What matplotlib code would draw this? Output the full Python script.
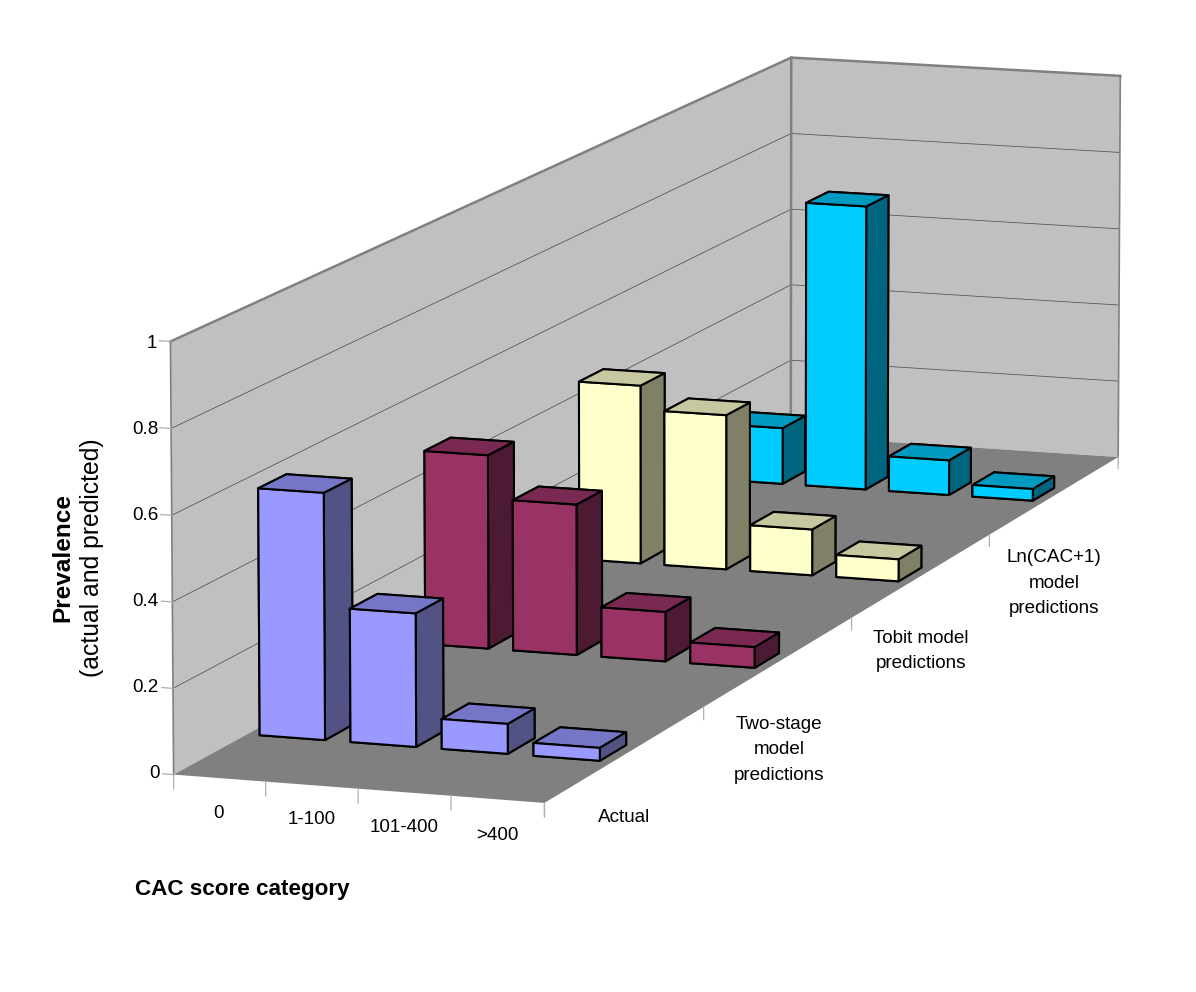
import numpy as np
import matplotlib
matplotlib.use("Agg")
import matplotlib.pyplot as plt
from mpl_toolkits.mplot3d.art3d import Poly3DCollection

plt.rcParams['font.family'] = ['Liberation Sans', 'DejaVu Sans']

W, H = 1196, 992

# datos
categories = ['0', '1-100', '101-400', '>400']
series_names = ['Actual', 'Two-stage\nmodel\npredictions', 'Tobit model\npredictions', 'Ln(CAC+1)\nmodel\npredictions']
actual = [0.58, 0.313, 0.07, 0.03]
two_stage = [0.47, 0.365, 0.12, 0.05]
tobit = [0.447, 0.387, 0.115, 0.055]
ln_cac = [0.145, 0.733, 0.09, 0.03]
z_ticks = [0, 0.2, 0.4, 0.6, 0.8, 1]
z_tick_labels = ['0', '0.2', '0.4', '0.6', '0.8', '1']

front_colors = ['#9999FF', '#993366', '#FFFFCC', '#00CCFF']
top_colors = ['#7676C6', '#7A2952', '#C8C8A0', '#0099BF']
side_colors = ['#525285', '#4D1A33', '#808066', '#006680']

# calibracion de la camara: esquinas de la caja (x, y, z) -> pixeles
box_points = [(0, 0, 0), (4, 0, 0), (4, 4, 0), (0, 4, 0), (0, 0, 1), (0, 4, 1), (4, 4, 1)]
box_pixels = [(173, 773), (545, 804), (1118, 456), (791, 437), (170.5, 342), (791.5, 57), (1120, 76)]


def fit_camera(points, pixels):
    A, b = [], []
    for (x, y, z), (u, v) in zip(points, pixels):
        v = H - v
        A.append([x, y, z, 1, 0, 0, 0, 0, -u * x, -u * y, -u * z])
        A.append([0, 0, 0, 0, x, y, z, 1, -v * x, -v * y, -v * z])
        b += [u, v]
    p = np.linalg.lstsq(np.array(A, float), np.array(b, float), rcond=None)[0]
    # la fila de profundidad solo fija el orden de las caras dentro de cada barra
    return np.array([p[:4], p[4:8], [-1, 10, -20, 0], [p[8], p[9], p[10], 1]])


fig = plt.figure(figsize=(W / 100, H / 100), dpi=100)
# caja cuadrada que cubre toda la figura (mplot3d fuerza aspecto 1)
margin = (W - H) / 2
ax = fig.add_axes([0, -margin / H, 1, W / H], projection='3d')
ax.set_axis_off()
ax.computed_zorder = False
ax.set_proj_type('ortho')  # evita que Line3D recorte puntos fuera de [-1, 1]
M = fit_camera(box_points, box_pixels)
ax.get_proj = lambda: M
ax.viewLim.intervalx = (0, W)
ax.viewLim.intervaly = (-margin, H + margin)

n_x, n_y = len(categories), len(series_names)

# paredes y suelo
left_wall = [(0, 0, 0), (0, n_y, 0), (0, n_y, 1), (0, 0, 1)]
back_wall = [(0, n_y, 0), (n_x, n_y, 0), (n_x, n_y, 1), (0, n_y, 1)]
floor = [(0, 0, 0), (n_x, 0, 0), (n_x, n_y, 0), (0, n_y, 0)]
ax.add_collection3d(Poly3DCollection([left_wall, back_wall], facecolors='#C0C0C0', edgecolors='none', zorder=1), autolim=False)
ax.add_collection3d(Poly3DCollection([floor], facecolors='#808080', edgecolors='none', zorder=1), autolim=False)

for z in z_ticks[1:-1]:
    ax.plot([0, 0, n_x], [0, n_y, n_y], [z, z, z], color='#505050', lw=0.55, zorder=2)

edge = '#808080'
ax.plot([0, 0, n_x], [0, n_y, n_y], [1, 1, 1], color=edge, lw=1.8, zorder=2)
ax.plot([0, 0], [n_y, n_y], [0, 1], color=edge, lw=1.8, zorder=2)
ax.plot([0, 0], [0, 0], [0, 1], color=edge, lw=1.2, zorder=2)
ax.plot([n_x, n_x], [n_y, n_y], [0, 1], color=edge, lw=1.2, zorder=2)

# marcas de los ejes
tick_color = '#B0B0B0'
for z in z_ticks:
    ax.plot([-0.12, 0], [0, 0], [z, z], color=tick_color, lw=0.9, zorder=2)
for i in range(n_x + 1):
    ax.plot([i, i], [0, 0], [0, -0.033], color=tick_color, lw=0.9, zorder=2)
for j in range(n_y + 1):
    ax.plot([n_x, n_x], [j, j], [0, -0.03], color=tick_color, lw=0.9, zorder=2)

# barras: una coleccion por barra, pintadas de atras hacia delante
values = [actual, two_stage, tobit, ln_cac]
bar_w, bar_d = 0.72, 0.165
for j, serie in enumerate(values):
    # orden de caras de bar3d: -z, +z, -y, +y, -x, +x
    faces = [front_colors[j], top_colors[j], front_colors[j], side_colors[j], side_colors[j], side_colors[j]]
    for i, v in enumerate(serie):
        ax.bar3d(i + 0.14, j + 0.42, 0, bar_w, bar_d, v, color=faces, shade=False,
                 edgecolor='black', linewidth=1.5, zorder=3 + (n_y - j) * 10 + i)


def pix_text(x, y, s, **kw):
    fig.text(x / W, 1 - y / H, s, ha=kw.pop('ha', 'center'), va=kw.pop('va', 'center'), color='black', **kw)


label_size = 13.6
for z, lab, x, y in zip(z_ticks, z_tick_labels, [155, 145, 145, 145, 145, 152], [774, 688, 602, 516, 430, 344]):
    pix_text(x, y, lab, fontsize=label_size)
for lab, x, y in zip(categories, [219, 312, 404, 497], [813, 820, 828, 836]):
    pix_text(x, y, lab, fontsize=label_size)
for lab, x, y in zip(series_names, [624, 779, 921, 1054], [818, 750, 651, 583]):
    pix_text(x, y, lab, fontsize=label_size, linespacing=1.68)

pix_text(63, 558, 'Prevalence', fontsize=17.6, fontweight='bold', rotation=90)
pix_text(92, 558, '(actual and predicted)', fontsize=17.8, rotation=90)
pix_text(242, 889, 'CAC score category', fontsize=16.2, fontweight='bold')

fig.savefig('out.png', dpi=100)
